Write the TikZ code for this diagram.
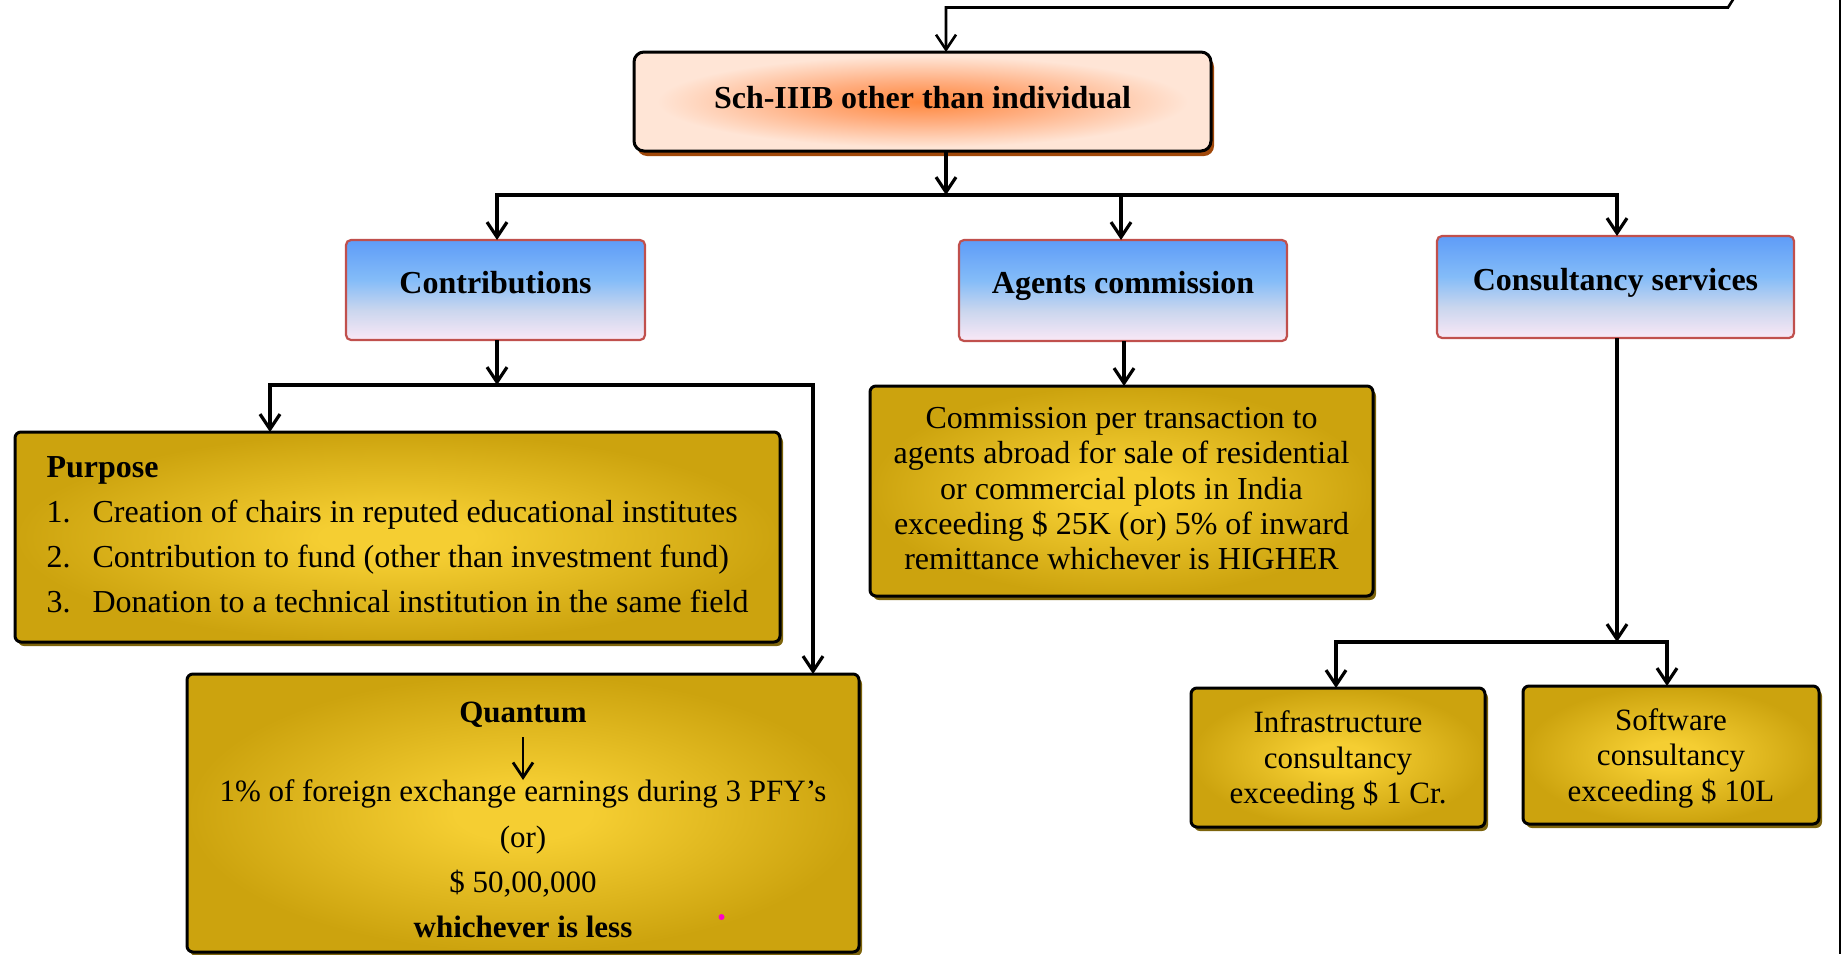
\documentclass[tikz,border=0pt]{standalone}
\usepackage{fontspec}
\setmainfont{Liberation Serif}
\usetikzlibrary{arrows.meta,shadows}

% palette
\definecolor{goldC}{RGB}{245,206,50}
\definecolor{goldE}{RGB}{204,163,14}
\definecolor{goldshadow}{RGB}{125,100,12}
\definecolor{peach}{RGB}{255,229,214}
\definecolor{orangeC}{RGB}{255,135,60}
\definecolor{orangeM}{RGB}{255,172,125}
\definecolor{mainshadow}{RGB}{160,72,10}
\definecolor{blueTop}{RGB}{94,156,248}
\definecolor{blueMid}{RGB}{132,188,248}
\definecolor{blueLav}{RGB}{202,214,238}
\definecolor{pinkBot}{RGB}{250,232,246}
\definecolor{rededge}{RGB}{192,80,77}
\definecolor{stray}{RGB}{255,0,200}

% fills of the boxes
\pgfdeclareradialshading{goldglow}{\pgfpoint{0bp}{0bp}}{color(0bp)=(goldC); color(5bp)=(goldC); color(25bp)=(goldE); color(50bp)=(goldE)}
\pgfdeclareradialshading{orangeglow}{\pgfpoint{0bp}{0bp}}{color(0bp)=(orangeC); color(10bp)=(orangeM); color(23bp)=(peach); color(50bp)=(peach)}
\pgfdeclareverticalshading{skyfade}{100bp}{color(0bp)=(pinkBot); color(25bp)=(pinkBot); color(40bp)=(blueLav); color(55bp)=(blueMid); color(75bp)=(blueTop); color(100bp)=(blueTop)}

\newcommand\txtbody{\fontsize{31pt}{35.4pt}\selectfont}
\newcommand\txtwide{\fontsize{31pt}{45.3pt}\selectfont}
\newcommand\txthead{\fontsize{32pt}{38pt}\selectfont\bfseries}

\begin{document}
\begin{tikzpicture}[x=1pt,y=-1pt,
  every node/.style={inner sep=0pt, outer sep=0pt},
  link/.style={draw=black, line width=3.2pt, line join=miter},
  arrowed/.style={link, -{Straight Barb[length=15pt,width=20pt]}},
  twoway/.style={link, {Straight Barb[length=15pt,width=20pt]}-{Straight Barb[length=15pt,width=20pt]}},
  titlebox/.style={draw=black, line width=3pt, rounded corners=10pt, shade, shading=orangeglow,
    drop shadow={shadow xshift=3pt, shadow yshift=-5pt, fill=mainshadow, opacity=1},
    font=\txthead, text height=21pt, text depth=6.5pt},
  headbox/.style={draw=rededge, line width=2.2pt, rounded corners=5pt, shade, shading=skyfade,
    font=\txthead, text height=14pt, text depth=8pt},
  goldbox/.style={draw=black, line width=3pt, rounded corners=6pt, shade, shading=goldglow,
    drop shadow={shadow xshift=3pt, shadow yshift=-4pt, fill=goldshadow, opacity=1},
    align=center, font=\txtbody},
]
\useasboundingbox (0,0) rectangle (1841,954);

% boxes
\node[titlebox, minimum width=577pt, minimum height=99pt] (main) at (922.5,101.5) {Sch-IIIB other than individual};

\node[headbox, minimum width=299pt, minimum height=100pt] (contrib) at (495.5,290) {Contributions};
\node[headbox, minimum width=328pt, minimum height=101pt] (agents) at (1123,290.5) {Agents commission};
\node[headbox, minimum width=357pt, minimum height=102pt] (consult) at (1615.5,287) {Consultancy services};

\node[goldbox, align=left, font=\fontsize{32pt}{45.3pt}\selectfont, minimum width=765pt, minimum height=210pt] (purpose) at (397.5,537)
  {\textbf{Purpose}\\
   \makebox[46pt][l]{1.}Creation of chairs in reputed educational institutes\\
   \makebox[46pt][l]{2.}Contribution to fund (other than investment fund)\\
   \makebox[46pt][l]{3.}Donation to a technical institution in the same field\rule[-5pt]{0pt}{5pt}};

\node[goldbox, minimum width=672pt, minimum height=278pt] (quantum) at (523,813) {};
\node[anchor=base, font=\txtbody\bfseries] (qtitle) at (523,722) {Quantum};
\node[align=center, font=\txtwide] (qbody) at (523,859)
  {1\% of foreign exchange earnings during 3 PFY’s\\(or)\\\$ 50,00,000\\\textbf{whichever is less}};

\node[goldbox, font=\fontsize{32pt}{35.4pt}\selectfont, minimum width=503pt, minimum height=210pt] (agdetail) at (1121.5,491)
  {Commission per transaction to\\agents abroad for sale of residential\\or commercial plots in India\\exceeding \$ 25K (or) 5\% of inward\\remittance whichever is HIGHER\rule[-5pt]{0pt}{5pt}};

\node[goldbox, minimum width=294pt, minimum height=139pt] (infra) at (1338,757.5)
  {\rule{0pt}{28pt}Infrastructure\\consultancy\\exceeding \$ 1 Cr.};
\node[goldbox, minimum width=296pt, minimum height=138pt] (soft) at (1671,755)
  {\rule{0pt}{28pt}Software\\consultancy\\exceeding \$ 10L};

% feed from above into the title box
\coordinate (feed) at (1734,-2);
\coordinate (feedbend) at (1728,7.5);
\coordinate (feedcol) at (946,7.5);
\draw[arrowed, line width=2.6pt] (feed) -- (feedbend) -- (feedcol) -- (feedcol |- main.north);

% title box to the three heads
\coordinate (spine) at (946,195);
\coordinate (barL) at (497,195);
\coordinate (barM) at (1121,195);
\coordinate (barR) at (1617,195);
\draw[arrowed] (spine |- main.south) -- (spine);
\draw[twoway] (barL |- contrib.north) -- (barL) -- (barR) -- (barR |- consult.north);
\draw[arrowed] (barM) -- (barM |- agents.north);

% contributions branch
\coordinate (cjoin) at (497,385);
\coordinate (cL) at (270,385);
\coordinate (cR) at (813,385);
\draw[arrowed] (cjoin |- contrib.south) -- (cjoin);
\draw[twoway] (cL |- purpose.north) -- (cL) -- (cR) -- (cR |- quantum.north);
\draw[arrowed, line width=2.8pt, shorten <=10pt] (qtitle.south) -- (qbody.north);

% agents branch
\coordinate (acol) at (1124,0);
\draw[arrowed] (acol |- agents.south) -- (acol |- agdetail.north);

% consultancy branch
\coordinate (sjoin) at (1617,642);
\coordinate (sL) at (1336,642);
\coordinate (sR) at (1667,642);
\draw[arrowed] (sjoin |- consult.south) -- (sjoin);
\draw[twoway] (sL |- infra.north) -- (sL) -- (sR) -- (sR |- soft.north);

% stray mark and page edge
\fill[stray] (721.5,917) circle (3pt);
\draw[line width=1.8pt] (1840,0) -- (1840,954);
\end{tikzpicture}
\end{document}
